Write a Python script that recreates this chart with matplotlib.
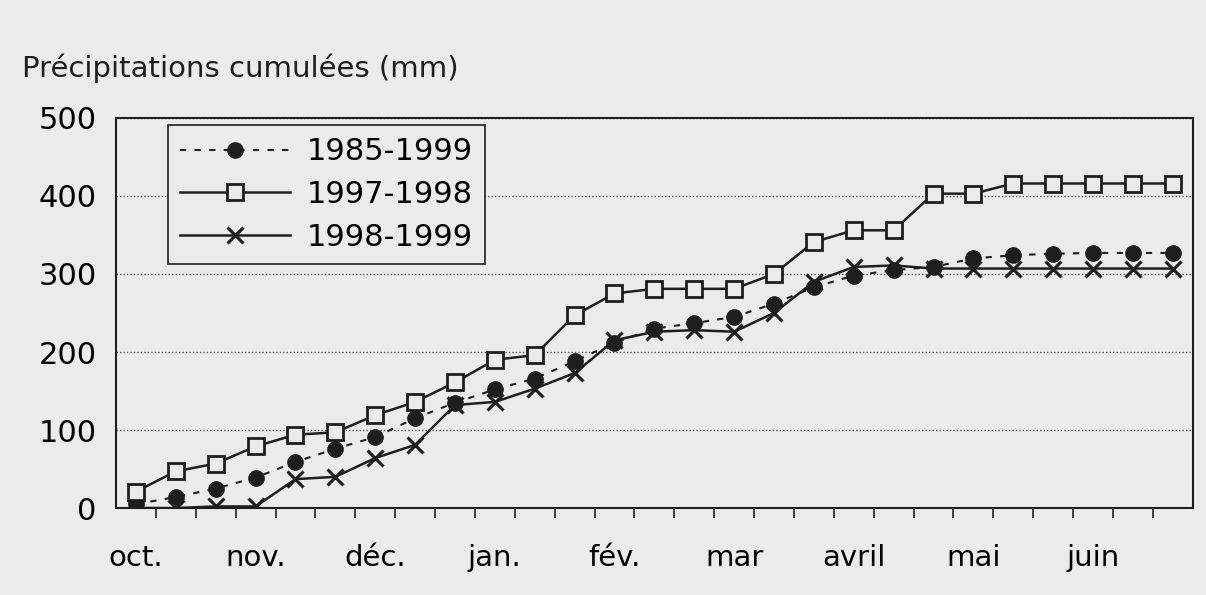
import numpy as np
import matplotlib
matplotlib.use("Agg")
import matplotlib.pyplot as plt

months = ["oct.", "nov.", "déc.", "jan.", "fév.", "mar", "avril", "mai", "juin"]
mean_1985_1999 = [5, 14, 25, 39, 59, 76, 91, 115, 135, 152, 166, 188, 212, 230,
                  237, 245, 262, 283, 298, 305, 309, 320, 324, 326, 327, 327, 327]
year_1997_1998 = [21, 47, 57, 79, 94, 97, 119, 136, 161, 190, 196, 247, 275, 281,
                  281, 281, 300, 341, 356, 356, 403, 403, 416, 416, 416, 416, 416]
year_1998_1999 = [0, 0, 2, 2, 37, 40, 64, 81, 132, 136, 153, 173, 215, 226,
                  228, 226, 250, 290, 309, 311, 307, 307, 307, 307, 307, 307, 307]

plt.rcParams['font.family'] = ['DejaVu Sans']
bg = '#ebebeb'
ink = '#1e1e1e'
fs = 21

fig = plt.figure(figsize=(12.06, 5.95), dpi=100, facecolor=bg)
ax = fig.add_axes([0.0962, 0.1462, 0.8928, 0.6555], facecolor=bg)

x = np.arange(len(year_1997_1998))
ax.plot(x, mean_1985_1999, color=ink, lw=1.5, ls=(0, (3, 4)), marker='o', ms=11,
        mfc=ink, mec=ink, label="1985-1999")
ax.plot(x, year_1997_1998, color=ink, lw=1.8, marker='s', ms=12, mfc=bg, mec=ink,
        mew=2, label="1997-1998")
ax.plot(x, year_1998_1999, color=ink, lw=1.8, marker='x', ms=12, mec=ink, mew=2.2,
        label="1998-1999")

ax.set_xlim(-0.5, len(x) - 0.5)
ax.set_ylim(0, 500)
ax.set_yticks([0, 100, 200, 300, 400, 500])
ax.grid(axis='y', color='#555555', ls=(0, (1, 1.5)), lw=1)
ax.tick_params(axis='y', length=0, pad=14, labelsize=22)

ax.set_xticks(np.arange(0, len(x), 3))
ax.set_xticklabels(months)
ax.set_xticks(np.arange(0.5, len(x) - 0.5, 1), minor=True)
ax.tick_params(axis='x', which='major', length=0, pad=26, labelsize=fs)
ax.tick_params(axis='x', which='minor', length=7, width=1.2, direction='out', color=ink)
for s in ax.spines.values():
    s.set_color(ink)
    s.set_linewidth(1.5)

leg = ax.legend(loc='upper left', bbox_to_anchor=(0.048, 0.982), fontsize=22,
                handlelength=3.6, handletextpad=0.55, labelspacing=0.45,
                borderpad=0.4, borderaxespad=0, fancybox=False, framealpha=1,
                facecolor=bg, edgecolor=ink)
leg.get_frame().set_linewidth(1.2)

fig.text(22 / 1206, 1 - 68 / 595, "Précipitations cumulées (mm)", fontsize=fs,
         va='center', ha='left', color=ink)

fig.savefig("out.png", dpi=100, facecolor=bg)
